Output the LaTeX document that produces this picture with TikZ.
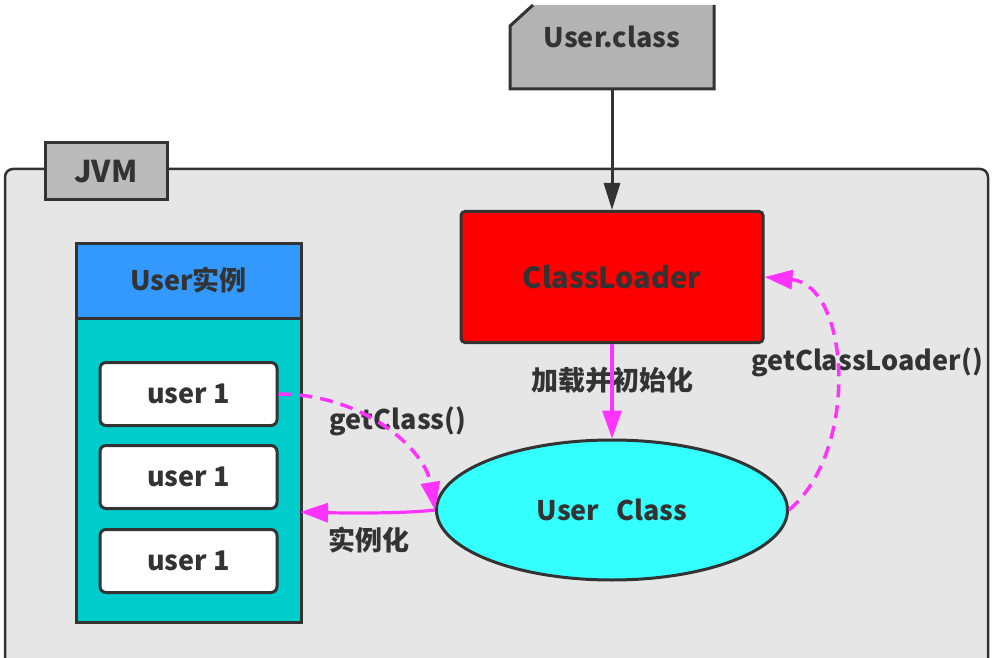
\documentclass[tikz,border=0pt]{standalone}
\usepackage{fontspec}
\setmainfont{Noto Sans CJK SC}
\usetikzlibrary{arrows.meta,shapes.geometric}
\definecolor{ink}{HTML}{333333}
\definecolor{jvmfill}{HTML}{E6E6E6}
\definecolor{tabfill}{HTML}{BBBBBB}
\definecolor{docfill}{HTML}{B3B3B3}
\definecolor{hdrblue}{HTML}{3399FF}
\definecolor{teal}{HTML}{00CCCC}
\definecolor{cyanfill}{HTML}{33FFFF}
\definecolor{mag}{HTML}{FF33FF}
\tikzset{
  txt/.style={font=\bfseries\fontsize{27}{30}\selectfont, text=ink, inner sep=0pt},
  box/.style={txt, draw=ink, line width=3pt},
  tabbox/.style={box, fill=tabfill, minimum width=122pt, minimum height=57pt},
  clbox/.style={box, fill=red, rounded corners=4pt, minimum width=302pt, minimum height=131pt},
  ellbox/.style={box, ellipse, fill=cyanfill, minimum width=351pt, minimum height=140pt},
  hdrbox/.style={box, fill=hdrblue, minimum width=225pt, minimum height=75pt},
  bodybox/.style={box, fill=teal, minimum width=225pt, minimum height=304pt},
  userbox/.style={box, fill=white, rounded corners=6pt, minimum width=177pt, minimum height=63pt},
  darrow/.style={draw=ink, line width=3pt, -{Triangle[length=27pt,width=16pt]}},
  marrow/.style={draw=mag, line width=3.2pt, -{Triangle[length=28pt,width=19pt]}},
  mdash/.style={marrow, line width=3.5pt, dash pattern=on 13pt off 8pt},
}
\begin{document}
\begin{tikzpicture}[x=1pt,y=-1pt]
\useasboundingbox (0,0) rectangle (1002,658);
\clip (0,0) rectangle (1002,658);
\fill[white] (0,0) rectangle (1002,658);
% JVM container
\draw[draw=ink, line width=2.5pt, fill=jvmfill, rounded corners=8pt]
  (5,700) -- (5,169) -- (988,169) -- (988,700);
\node[tabbox, font=\bfseries\fontsize{30}{34}\selectfont] (jvm) at (106,171.5) {JVM};
% User.class document
\fill[docfill] (533,5) -- (510,26) -- (510,89) -- (714,89) -- (714,5) -- cycle;
\draw[draw=ink, line width=3pt, line join=miter] (533,5) -- (510,26) -- (510,89) -- (714,89) -- (714,5);
\node[txt, minimum width=204pt, minimum height=84pt, text depth=0pt] (doc) at (612,47) {};
\node[txt, font=\bfseries\fontsize{27}{30}\selectfont] (doclabel) at (612,37) {User.class};
% ClassLoader
\node[clbox, font=\bfseries\fontsize{29}{32}\selectfont] (cl) at (612,277) {ClassLoader};
% User Class
\node[ellbox] (ucl) at (612,510) {User\ \ \,Class};
% User instance lane
\node[bodybox] (ub) at (188.5,470) {};
\node[hdrbox] (uh) at (188.5,280.5) {User实例};
\node[userbox] (u1) at (188.5,394) {user 1};
\node[userbox] (u2) at (188.5,477) {user 1};
\node[userbox] (u3) at (188.5,561) {user 1};
% labels
\node[txt] (lload) at (612,380) {加载并初始化};
\node[txt] (lgc) at (398,421) {getClass()};
\node[txt] (linst) at (369,540) {实例化};
\node[txt] (lgcl) at (867,362) {getClassLoader()};
\coordinate (inst) at (300,512);
% connectors
\draw[darrow] (doc.south) -- (cl.north);
\draw[marrow] (cl.south) -- (ucl.north);
\draw[mdash] (u1.east) .. controls (365,394) and (425,450) .. (ucl.west);
\draw[marrow] (ucl.west) .. controls (400,514) and (340,513) .. (inst);
\draw[mdash] (ucl.east) .. controls (860,450) and (850,285) .. (cl.east);
\end{tikzpicture}
\end{document}
